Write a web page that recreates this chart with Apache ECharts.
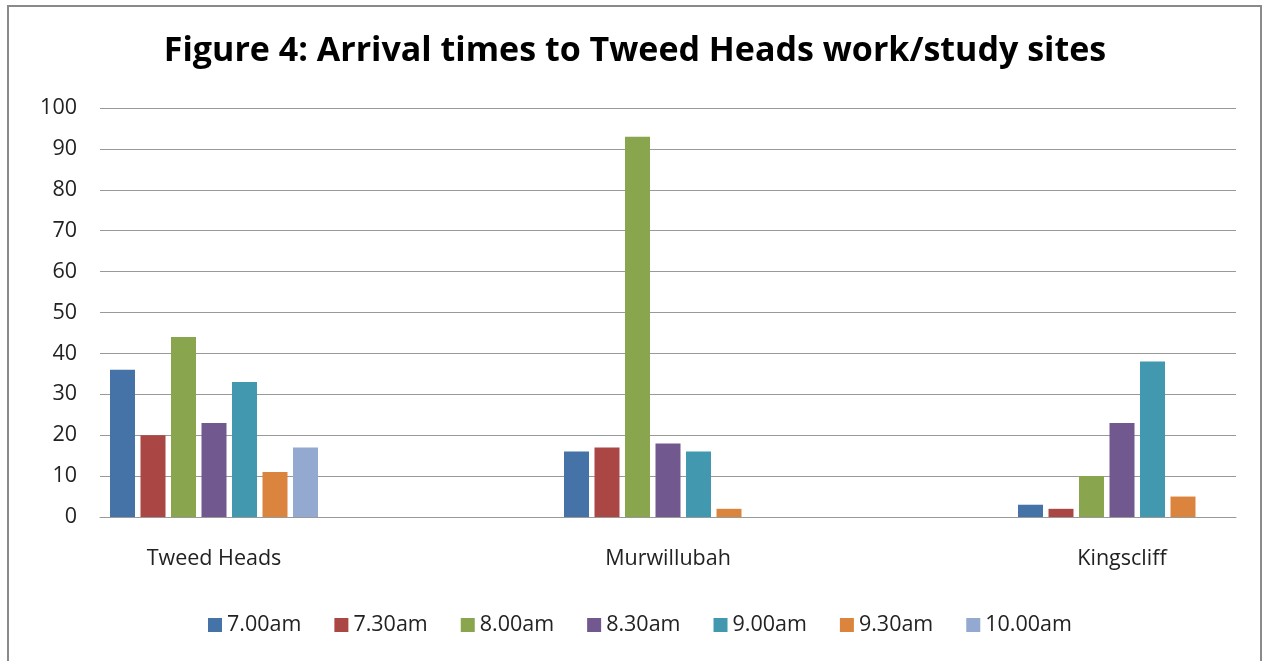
<!DOCTYPE html>
<html>
<head>
<meta charset="utf-8">
<script src="https://cdn.jsdelivr.net/npm/echarts@6/dist/echarts.min.js"></script>
<style>
html,body{margin:0;padding:0;background:#fff;}
#chart{width:1270px;height:661px;}
</style>
</head>
<body>
<div id="chart"></div>
<script>
const categories = ['Tweed Heads', 'Murwillubah', 'Kingscliff'];
const seriesNames = ['7.00am', '7.30am', '8.00am', '8.30am', '9.00am', '9.30am', '10.00am'];
const s0700 = [36, 16, 3];
const s0730 = [20, 17, 2];
const s0800 = [44, 93, 10];
const s0830 = [23, 18, 23];
const s0900 = [33, 16, 38];
const s0930 = [11, 2, 5];
const s1000 = [17, 0, 0];
const seriesValues = [s0700, s0730, s0800, s0830, s0900, s0930, s1000];
const yMin = 0, yMax = 100, yInterval = 10;
const colors = ['#4572A7', '#AA4643', '#89A54E', '#71588F', '#4198AF', '#DB843D', '#93A9CF'];

const FONT = '"Open Sans", Lato, sans-serif';
const chart = echarts.init(document.getElementById('chart'), null, {renderer: 'canvas'});

const series = seriesNames.map((name, i) => ({
  name: name,
  type: 'bar',
  xAxisIndex: 1,
  yAxisIndex: 1,
  data: seriesValues[i],
  barWidth: 25,
  barGap: '22%',
  clip: false,
  itemStyle: {color: colors[i]},
  emphasis: {disabled: true}
}));

chart.setOption({
  animation: false,
  color: colors,
  title: {
    text: 'Figure 4: Arrival times to Tweed Heads work/study sites',
    left: 'center',
    top: 29,
    textStyle: {fontFamily: FONT, fontWeight: 'bold', fontSize: 34, color: '#000'}
  },
  graphic: [{
    type: 'rect',
    shape: {x: 8, y: 6, width: 1253, height: 700},
    style: {fill: 'none', stroke: '#8a8a8a', lineWidth: 2},
    silent: true
  }],
  legend: {
    data: seriesNames,
    left: 203,
    top: 609,
    icon: 'rect',
    itemWidth: 14,
    itemHeight: 14,
    itemGap: 33,
    textStyle: {fontFamily: FONT, fontSize: 21.5, color: '#222'}
  },
  grid: [
    {left: 100, right: 34, top: 108, bottom: 144},
    {left: 214, right: 148, top: 108, bottom: 144}
  ],
  xAxis: [
    {
      type: 'category', gridIndex: 0, data: categories,
      axisLine: {show: true, lineStyle: {color: '#999', width: 1}},
      axisTick: {show: false},
      axisLabel: {show: false},
      splitLine: {show: false}
    },
    {
      type: 'category', gridIndex: 1, data: categories, boundaryGap: false,
      axisLine: {show: false},
      axisTick: {show: false},
      axisLabel: {show: true, margin: 31, fontFamily: FONT, fontSize: 21.5, color: '#222'},
      splitLine: {show: false}
    }
  ],
  yAxis: [
    {
      type: 'value', gridIndex: 0, min: yMin, max: yMax, interval: yInterval,
      axisLine: {show: false},
      axisTick: {show: false},
      axisLabel: {margin: 23, fontFamily: FONT, fontSize: 21.5, color: '#222'},
      splitLine: {show: true, lineStyle: {color: '#999', width: 1}}
    },
    {
      type: 'value', gridIndex: 1, min: yMin, max: yMax, interval: yInterval,
      show: false
    }
  ],
  series: series
});
</script>
</body>
</html>
